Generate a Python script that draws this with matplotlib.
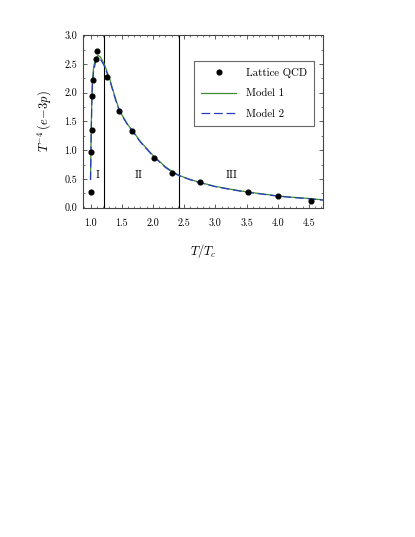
import numpy as np
import matplotlib
matplotlib.use("Agg")
import matplotlib.pyplot as plt
from matplotlib.ticker import MultipleLocator

plt.rcParams['font.family'] = 'cmr10'
plt.rcParams['mathtext.fontset'] = 'cm'
plt.rcParams['axes.formatter.use_mathtext'] = True

# Lattice data
t_lat = [1.0, 1.015, 1.018, 1.028, 1.035, 1.085, 1.10, 1.26, 1.45, 1.66, 2.02, 2.30, 2.75, 3.53, 4.0, 4.53]
e_lat = [0.27, 0.97, 1.35, 1.94, 2.22, 2.58, 2.72, 2.28, 1.69, 1.33, 0.87, 0.60, 0.44, 0.27, 0.20, 0.12]

# Model curves
t_mod = [1.0, 1.01, 1.02, 1.03, 1.05, 1.08, 1.12, 1.16, 1.22, 1.31, 1.40, 1.45, 1.50, 1.60,
         1.66, 1.80, 2.0, 2.2, 2.31, 2.42, 2.6, 2.75, 3.0, 3.25, 3.5, 3.75, 4.0, 4.25, 4.5, 4.73]
model1 = [0.50, 1.25, 1.85, 2.20, 2.45, 2.60, 2.65, 2.62, 2.50, 2.23, 1.90, 1.74, 1.62, 1.44,
          1.36, 1.15, 0.91, 0.71, 0.63, 0.56, 0.49, 0.44, 0.37, 0.32, 0.275, 0.24, 0.205, 0.18, 0.16, 0.135]
model2 = [0.48, 1.20, 1.80, 2.12, 2.38, 2.53, 2.59, 2.58, 2.47, 2.21, 1.88, 1.72, 1.61, 1.43,
          1.35, 1.14, 0.90, 0.70, 0.62, 0.555, 0.485, 0.435, 0.365, 0.315, 0.27, 0.235, 0.20, 0.175, 0.155, 0.13]

region_x = [1.22, 2.42]
region_lbl = [(1.12, "I"), (1.78, "II"), (3.26, "III")]

fig = plt.figure(figsize=(4.15, 5.37), dpi=100)
ax = fig.add_axes([0.1993, 0.6133, 0.5798, 0.321])

ax.plot(t_mod, model1, color="#3d8f2f", lw=0.9, label="Model 1", zorder=3)
ax.plot(t_mod, model2, color="#2b3bbd", lw=0.9, dashes=(7, 3), label="Model 2", zorder=4)
ax.plot(t_lat, e_lat, "o", color="black", ms=3.4, label="Lattice QCD", zorder=5)

for xv in region_x:
    ax.axvline(xv, color="black", lw=0.8, zorder=2)
for xv, s in region_lbl:
    ax.text(xv, 0.56, s, ha="center", va="center", fontsize=8)

ax.set_xlim(0.875, 4.73)
ax.set_ylim(0, 3.0)
ax.xaxis.set_major_locator(MultipleLocator(0.5))
ax.xaxis.set_minor_locator(MultipleLocator(0.1))
ax.yaxis.set_major_locator(MultipleLocator(0.5))
ax.yaxis.set_minor_locator(MultipleLocator(0.25))
ax.xaxis.set_major_formatter(plt.FormatStrFormatter("%.1f"))
ax.yaxis.set_major_formatter(plt.FormatStrFormatter("%.1f"))
ax.tick_params(which="both", direction="in", top=True, right=True, labelsize=7.2, color="#444444")
ax.tick_params(which="major", length=3, width=0.6)
ax.tick_params(which="minor", length=1.5, width=0.5)
ax.tick_params(axis="x", which="major", pad=8)
ax.tick_params(axis="y", which="major", pad=4)
for sp in ax.spines.values():
    sp.set_linewidth(0.8)
    sp.set_color("#444444")

ax.set_xlabel(r"$T/T_c$", fontsize=9, labelpad=10)
ax.set_ylabel(r"$T^{-4}\,(e\!-\!3p)$", fontsize=9, labelpad=8)

handles, labels = ax.get_legend_handles_labels()
order = [2, 0, 1]
leg = ax.legend([handles[i] for i in order], [labels[i] for i in order],
                loc="upper right", bbox_to_anchor=(0.961, 0.851), borderaxespad=0,
                fontsize=7.8, fancybox=False, edgecolor="#666666", framealpha=1,
                handlelength=3.2, handletextpad=0.9, labelspacing=1.0, borderpad=0.65)
leg.get_frame().set_linewidth(0.8)

plt.savefig("out.png", dpi=100)
